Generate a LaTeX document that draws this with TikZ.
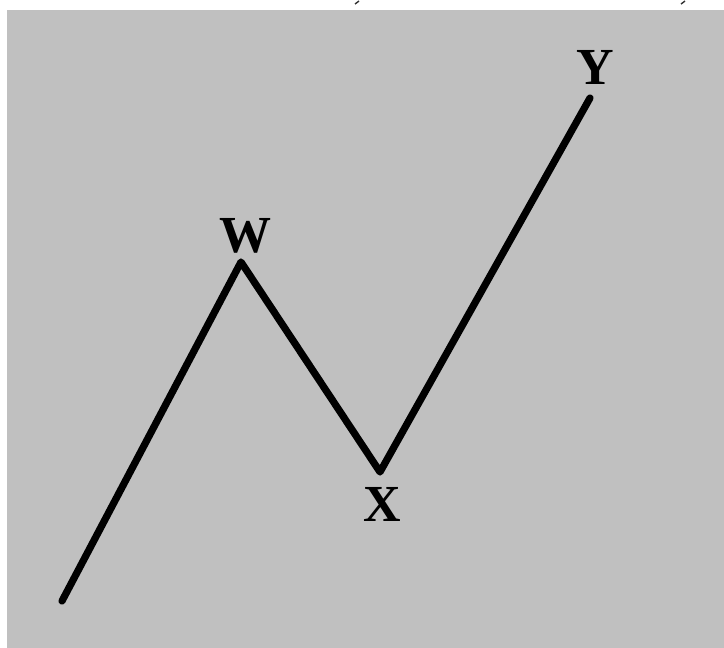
\documentclass[tikz,border=0pt]{standalone}
\usepackage{fontspec}
\setmainfont{Liberation Serif}
\usetikzlibrary{positioning}
\definecolor{panel}{HTML}{C0C0C0}
\tikzset{
  wave/.style={draw=black, line width=3.6pt, line cap=round, line join=round},
  lbl/.style={font=\fontsize{26}{30}\selectfont\bfseries, inner sep=0pt, text=black},
  speck/.style={draw=black!80, line width=0.7pt},
}
\begin{document}
\begin{tikzpicture}[x=0.5pt, y=-0.5pt]
\useasboundingbox (0,0) rectangle (724,648);
\fill[white] (0,0) rectangle (724,648);
\fill[panel] (7,10) rectangle (724,648);

% turning points of the wave
\coordinate (start) at (62,601);
\coordinate (w) at (241,262);
\coordinate (x) at (380,472);
\coordinate (y) at (590,98);

% labels
\node[lbl] (wlbl) at (245,236) {W};
\node[lbl] (xlbl) at (382,504) {X};
\node[lbl] (ylbl) at (595,67) {Y};

\draw[wave] (start) -- (w) -- (x) -- (y);

% small marks along the top edge
\coordinate (m1) at (355,4);
\coordinate (m2) at (681,4);
\draw[speck] (m1) -- ++(4,-3);
\draw[speck] (m2) -- ++(4,-3);
\end{tikzpicture}
\end{document}
